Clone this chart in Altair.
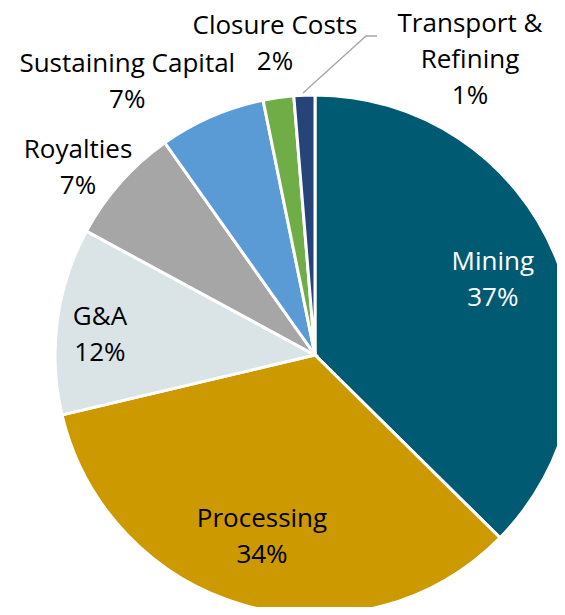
import math
import altair as alt
import pandas as pd

# Data (share of costs; labels show rounded %)
categories = ["Mining", "Processing", "G&A", "Royalties", "Sustaining Capital",
              "Closure Costs", "Transport & Refining"]
values = [37.4, 33.9, 11.6, 7.3, 6.6, 1.9, 1.3]
label_lines = [["Mining"], ["Processing"], ["G&A"], ["Royalties"],
               ["Sustaining Capital"], ["Closure Costs"], ["Transport &", "Refining"]]

# Styling / layout
colors = ["#005A72", "#CC9900", "#DAE3E6", "#A6A6A6", "#5B9BD5", "#70AD47", "#264478"]
text_colors = ["#FFFFFF", "#000000", "#000000", "#000000", "#000000", "#000000", "#000000"]
label_angle_deg = [67.15, 196.2, 275.3, 308.3, 325.45, 352.67, 27.72]
label_radius = [193, 190, 216, 302, 331, 313.6, 333.2]

CX, CY, R = 307, 347, 260
LH = 36

df = pd.DataFrame({
    "cat": categories,
    "value": values,
    "idx": list(range(len(categories))),
})
df["label"] = [lines + [f"{round(v)}%"] for lines, v in zip(label_lines, values)]

# label block centres given in polar form; shift to first-line anchor
angs, rads = [], []
for a, r, lines in zip(label_angle_deg, label_radius, df["label"]):
    dx = r * math.sin(math.radians(a))
    dy = -r * math.cos(math.radians(a)) - (len(lines) - 1) * LH / 2
    rads.append(math.hypot(dx, dy))
    angs.append(math.atan2(dx, -dy))
df["ang"] = angs
df["rad"] = rads
df["tcol"] = text_colors

# leader line for the small slice (offsets from pie centre)
leader_dx = [-12, 51, 62]
leader_dy = [-262, -319, -319]
lead = pd.DataFrame({"x": [CX + d for d in leader_dx],
                     "y": [CY + d for d in leader_dy],
                     "o": [0, 1, 2]})

base = alt.Chart(df)

pie = base.mark_arc(outerRadius=R, stroke="white", strokeWidth=3).encode(
    theta=alt.Theta("value:Q", stack=True),
    order=alt.Order("idx:Q"),
    color=alt.Color("cat:N", scale=alt.Scale(domain=categories, range=colors), legend=None),
    x=alt.value(CX),
    y=alt.value(CY),
)

labels = base.mark_text(font="Open Sans", fontSize=26, lineHeight=LH,
                        align="center", baseline="middle").encode(
    theta=alt.Theta("ang:Q", scale=None),
    radius=alt.Radius("rad:Q", scale=None),
    text="label",
    color=alt.Color("tcol:N", scale=None),
    x=alt.value(CX),
    y=alt.value(CY),
)

leader = alt.Chart(lead).mark_line(color="#A6A6A6", strokeWidth=1.3).encode(
    x=alt.X("x:Q", scale=None),
    y=alt.Y("y:Q", scale=None),
    order="o:Q",
)

chart = alt.layer(pie, leader, labels).properties(
    width=549, height=599, padding=0,
    autosize=alt.AutoSizeParams(type="none"),
).configure_view(stroke=None)

chart.save("out.html", embed_options={"renderer": "svg", "actions": False})
